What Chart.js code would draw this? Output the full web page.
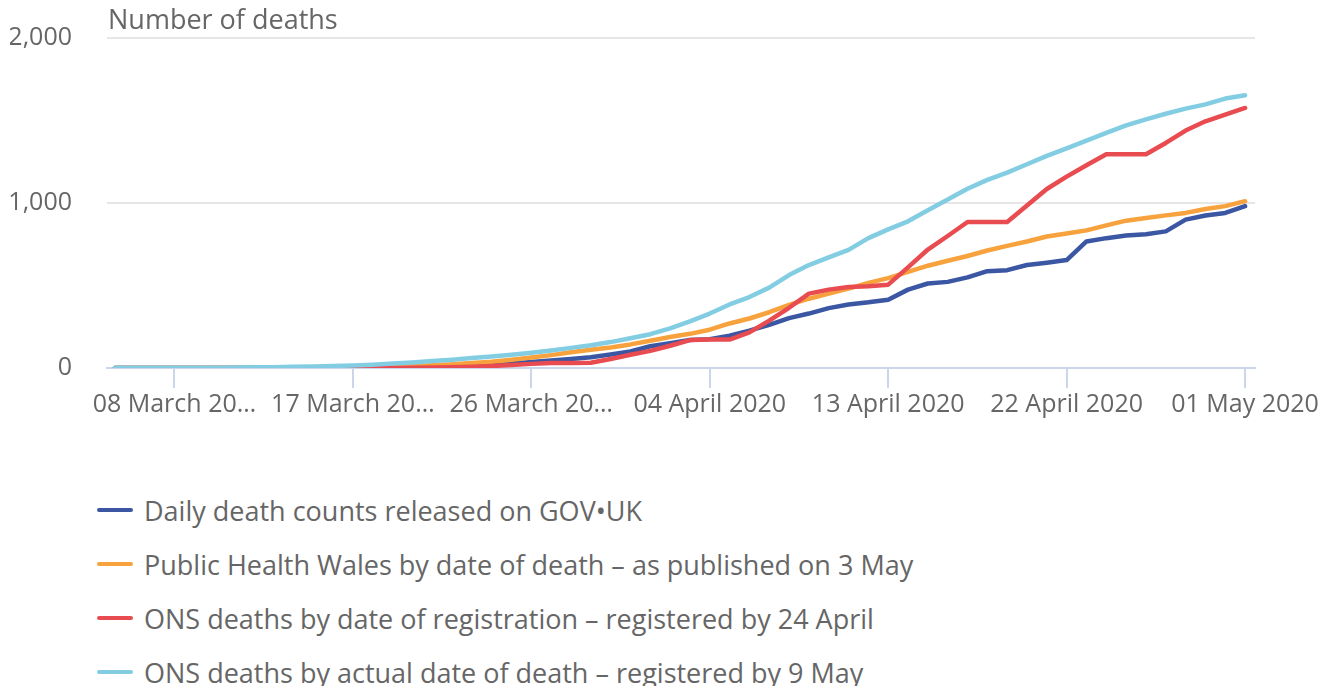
<!DOCTYPE html>
<html>
<head>
<meta charset="utf-8">
<script src="https://cdn.jsdelivr.net/npm/chart.js@4/dist/chart.umd.min.js"></script>
<style>
  html, body { margin: 0; padding: 0; background: #fff; }
  body { width: 1325px; height: 686px; overflow: hidden; font-family: "Open Sans", sans-serif; }
  #wrap { position: relative; width: 1325px; height: 440px; }
  #legend { position: absolute; left: 97px; top: 483px; }
  .item { display: flex; align-items: center; height: 54px; color: #666; font-size: 27px; }
  .swatch { width: 36px; height: 4px; border-radius: 2px; margin-right: 11px; }
</style>
</head>
<body>
<div id="wrap"><canvas id="deathsChart"></canvas></div>
<div id="legend"></div>
<script>
// dates 05 March 2020 .. 01 May 2020
const dates = [
  "05 Mar", "06 Mar", "07 Mar", "08 Mar", "09 Mar", "10 Mar", "11 Mar", "12 Mar", "13 Mar", "14 Mar",
  "15 Mar", "16 Mar", "17 Mar", "18 Mar", "19 Mar", "20 Mar", "21 Mar", "22 Mar", "23 Mar", "24 Mar",
  "25 Mar", "26 Mar", "27 Mar", "28 Mar", "29 Mar", "30 Mar", "31 Mar", "01 Apr", "02 Apr", "03 Apr",
  "04 Apr", "05 Apr", "06 Apr", "07 Apr", "08 Apr", "09 Apr", "10 Apr", "11 Apr", "12 Apr", "13 Apr",
  "14 Apr", "15 Apr", "16 Apr", "17 Apr", "18 Apr", "19 Apr", "20 Apr", "21 Apr", "22 Apr", "23 Apr",
  "24 Apr", "25 Apr", "26 Apr", "27 Apr", "28 Apr", "29 Apr", "30 Apr", "01 May"
];

// tick positions (index into dates) and their labels
const tickIndex = [3, 12, 21, 30, 39, 48, 57];
const tickLabels = ["08 March 20…", "17 March 20…", "26 March 20…", "04 April 2020", "13 April 2020", "22 April 2020", "01 May 2020"];

const govUk = [
  0, 0, 0, 0, 0, 0, 0, 0, 0, 0,
  0, 1, 2, 2, 3, 5, 6, 12, 16, 20,
  28, 37, 45, 55, 65, 82, 100, 132, 150, 170,
  175, 196, 226, 262, 302, 330, 363, 385, 398, 414,
  475, 512, 522, 549, 587, 593, 624, 638, 654, 767,
  787, 803, 811, 828, 899, 924, 940, 981
];
const phw = [
  0, 0, 0, 0, 0, 0, 1, 1, 1, 2,
  2, 3, 4, 6, 9, 12, 17, 22, 30, 38,
  50, 63, 78, 95, 110, 124, 143, 165, 188, 207,
  232, 270, 300, 338, 383, 420, 451, 481, 516, 545,
  583, 620, 650, 679, 712, 740, 767, 797, 815, 834,
  864, 893, 909, 925, 940, 964, 981, 1011
];
const onsReg = [
  0, 0, 0, 0, 0, 0, 0, 0, 0, 0,
  0, 0, 0, 0, 0, 1, 3, 5, 8, 12,
  18, 25, 30, 30, 32, 55, 80, 104, 135, 169,
  172, 172, 216, 287, 365, 451, 475, 491, 495, 505,
  610, 718, 800, 885, 885, 885, 985, 1085, 1160, 1229,
  1295, 1295, 1295, 1364, 1439, 1495, 1535, 1576
];
const onsDeath = [
  1, 1, 1, 1, 2, 2, 3, 4, 5, 7,
  9, 12, 15, 20, 27, 34, 42, 50, 60, 70,
  80, 92, 106, 122, 138, 157, 180, 205, 240, 283,
  330, 385, 430, 487, 563, 624, 671, 716, 787, 840,
  889, 956, 1021, 1086, 1140, 1184, 1235, 1286, 1331, 1378,
  1425, 1470, 1507, 1541, 1572, 1598, 1633, 1653
];

const seriesNames = [
  "Daily death counts released on GOV\u2022UK",
  "Public Health Wales by date of death \u2013 as published on 3 May",
  "ONS deaths by date of registration \u2013 registered by 24 April",
  "ONS deaths by actual date of death \u2013 registered by 9 May"
];
const seriesColors = ["#3b56a2", "#f8a23e", "#e84c50", "#83cde3"];
const yTicks = [0, 1000, 2000];

const toPoints = (vals) => vals.map((v, i) => ({ x: i, y: v }));

const font = { family: "'Open Sans', sans-serif", size: 25 };

// y-axis title drawn above the plot, like the original
const yTitle = {
  id: "yTitle",
  afterDraw(chart) {
    const { ctx, chartArea } = chart;
    ctx.save();
    ctx.font = "27px 'Open Sans', sans-serif";
    ctx.fillStyle = "#666";
    ctx.textBaseline = "middle";
    ctx.fillText("Number of deaths", chartArea.left + 1, 21);
    ctx.restore();
  }
};

const chart = new Chart(document.getElementById("deathsChart"), {
  type: "line",
  data: {
    datasets: [govUk, phw, onsReg, onsDeath].map((vals, i) => ({
      label: seriesNames[i],
      data: toPoints(vals),
      borderColor: seriesColors[i],
      backgroundColor: seriesColors[i],
      borderWidth: 4.5,
      borderCapStyle: "round",
      borderJoinStyle: "round",
      pointRadius: 0,
      tension: 0,
      order: 4 - i
    }))
  },
  options: {
    responsive: true,
    maintainAspectRatio: false,
    animation: false,
    layout: { padding: { left: 10, right: 70, top: 38, bottom: 18 } },
    plugins: {
      legend: { display: false },
      tooltip: { enabled: false }
    },
    scales: {
      x: {
        type: "linear",
        min: -0.4,
        max: 57.5,
        afterBuildTicks: (scale) => { scale.ticks = tickIndex.map(v => ({ value: v })); },
        ticks: {
          autoSkip: false,
          maxRotation: 0,
          padding: 2,
          color: "#666",
          font,
          callback: (value) => tickLabels[tickIndex.indexOf(value)]
        },
        grid: { drawOnChartArea: false, drawTicks: true, tickLength: 20, color: "#ccd6eb", lineWidth: 2 },
        border: { display: true, color: "#ccd6eb", width: 2 }
      },
      y: {
        min: 0,
        max: 2000,
        afterBuildTicks: (scale) => { scale.ticks = yTicks.map(v => ({ value: v })); },
        afterFit: (scale) => {
          scale.width = 97;
          scale.paddingTop = 0;
          scale.paddingBottom = 0;
        },
        ticks: {
          padding: 35,
          color: "#666",
          font,
          callback: (value) => value.toLocaleString("en-GB")
        },
        grid: {
          drawTicks: false,
          lineWidth: 2,
          color: (ctx) => ctx.tick && ctx.tick.value === 0 ? "rgba(0,0,0,0)" : "#e6e6e6"
        },
        border: { display: false }
      }
    }
  },
  plugins: [yTitle]
});

// vertical legend below the chart
const legend = document.getElementById("legend");
chart.data.datasets.forEach((ds) => {
  const row = document.createElement("div");
  row.className = "item";
  const sw = document.createElement("span");
  sw.className = "swatch";
  sw.style.background = ds.borderColor;
  const txt = document.createElement("span");
  txt.textContent = ds.label;
  row.appendChild(sw);
  row.appendChild(txt);
  legend.appendChild(row);
});
</script>
</body>
</html>
